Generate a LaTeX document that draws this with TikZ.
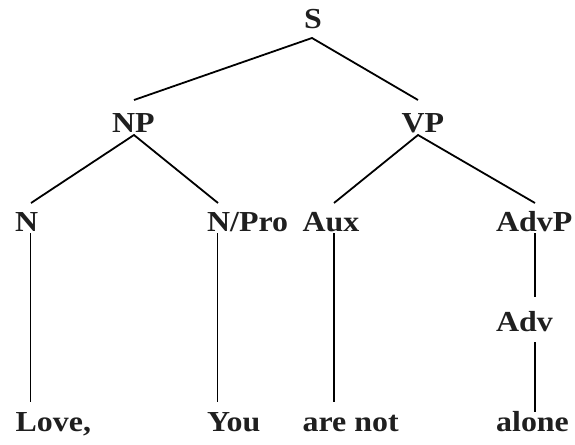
\documentclass[tikz,border=0pt]{standalone}
\usepackage{fontspec}
\setmainfont{Liberation Serif}[FakeStretch=1.1]
\begin{document}
\begin{tikzpicture}[x=1pt,y=-1pt,
  lbl/.style={anchor=base west,inner sep=0pt,text=black!88,font=\fontsize{29}{29}\selectfont\bfseries},
  edge/.style={line width=1.8pt}]
\useasboundingbox (0,0) rectangle (575,444);
% labels
\node[lbl] (S) at (304,29) {S};
\node[lbl] (NP) at (112,132) {NP};
\node[lbl] (VP) at (401.5,132) {VP};
\node[lbl] (N) at (15,231) {N};
\node[lbl] (NPro) at (207,231) {N/Pro};
\node[lbl] (Aux) at (302.5,231) {Aux};
\node[lbl] (AdvP) at (496,231) {AdvP};
\node[lbl] (Adv) at (496,331) {Adv};
\node[lbl] (Love) at (15.5,431) {Love,};
\node[lbl] (You) at (207,431) {You};
\node[lbl] (arenot) at (302.5,431) {are not};
\node[lbl] (alone) at (496,431) {alone};
% connector ends
\coordinate (Sb) at (312,38);
\coordinate (NPt) at (134,100);
\coordinate (VPt) at (418,100);
\coordinate (NPb) at (134,135);
\coordinate (VPb) at (418,135);
\coordinate (Nt) at (31,203);
\coordinate (NProt) at (218,203);
\coordinate (Auxt) at (334,203);
\coordinate (AdvPt) at (535,203);
\coordinate (Nb) at (30.5,233);
\coordinate (NProb) at (217.5,233);
\coordinate (Auxb) at (334,233);
\coordinate (AdvPb) at (535,233);
\coordinate (Lovet) at (30.5,402);
\coordinate (Yout) at (217.5,402);
\coordinate (arenott) at (334,402);
\coordinate (Advt) at (535,297);
\coordinate (Advb) at (535,342);
\coordinate (alonet) at (535,412);
% connectors
\draw[edge] (NPt) -- (Sb) -- (VPt);
\draw[edge] (Nt) -- (NPb) -- (NProt);
\draw[edge] (Auxt) -- (VPb) -- (AdvPt);
\draw[edge] (Nb) -- (Lovet);
\draw[edge] (NProb) -- (Yout);
\draw[edge] (Auxb) -- (arenott);
\draw[edge] (AdvPb) -- (Advt);
\draw[edge] (Advb) -- (alonet);
\end{tikzpicture}
\end{document}
